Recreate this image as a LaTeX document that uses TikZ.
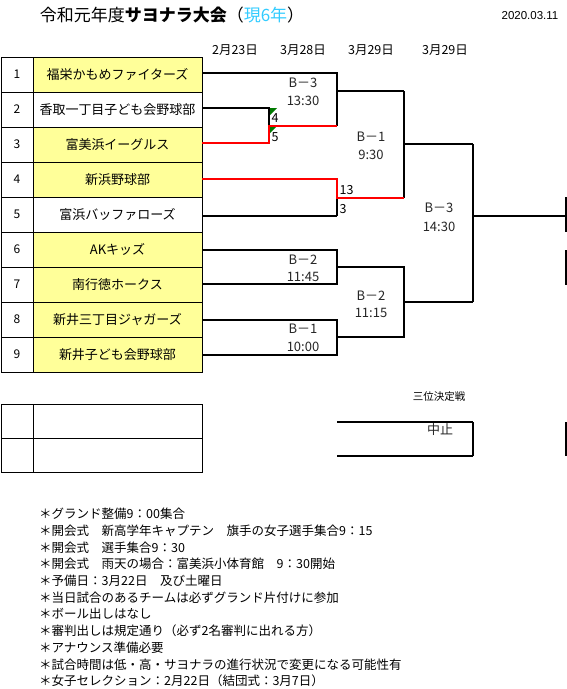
\documentclass[tikz,border=0pt]{standalone}
\usepackage{fontspec}
\newfontfamily\jp{Noto Sans CJK JP}
\newfontfamily\lsans{Liberation Sans}
\definecolor{cellyellow}{HTML}{FFFF99}
\definecolor{winred}{HTML}{FF0000}
\definecolor{titlecyan}{HTML}{33CCFF}
\definecolor{markgreen}{HTML}{007A00}
\begin{document}
\begin{tikzpicture}[x=1pt,y=-1pt,
  grid/.style={draw=black,line width=0.9pt},
  thinline/.style={draw=black,line width=1.3pt},
  thickline/.style={draw=black,line width=1.9pt},
  redline/.style={draw=winred,line width=2.8pt},
  team/.style={font={\jp\fontsize{13pt}{15pt}\selectfont},inner sep=0pt},
  num/.style={font={\jp\fontsize{12pt}{14pt}\selectfont},inner sep=0pt},
  datehead/.style={font={\jp\fontsize{12.5pt}{14pt}\selectfont},inner sep=0pt},
  match/.style={font={\jp\fontsize{13pt}{15pt}\selectfont},inner sep=0pt,text=black!85},
  score/.style={font={\jp\fontsize{12.5pt}{14pt}\selectfont},inner sep=0pt,anchor=west},
  note/.style={font={\jp\fontsize{12.5pt}{14pt}\selectfont},inner sep=0pt,anchor=west},
  small/.style={font={\jp\fontsize{10.5pt}{12pt}\selectfont},inner sep=0pt}]
\useasboundingbox (0,0) rectangle (567,689);
\fill[white] (0,0) rectangle (567,689);

% title and date
\node[inner sep=0pt,font={\jp\fontsize{17pt}{19pt}\selectfont}] (title) at (172,15)
  {令和元年度{\bfseries サヨナラ大会}（\textcolor{titlecyan}{現6年}）};
\node[inner sep=0pt,font={\lsans\fontsize{11.5pt}{13pt}\selectfont}] (date) at (530,16) {2020.03.11};

% date headers
\node[datehead] (d1) at (235,50) {2月23日};
\node[datehead] (d2) at (303,50) {3月28日};
\node[datehead] (d3) at (371,50) {3月29日};
\node[datehead] (d4) at (445,50) {3月29日};

% team table
\foreach \r in {1,3,4,6,7,8,9}{
  \fill[cellyellow] (33,{57+35*(\r-1)}) rectangle (202,{57+35*\r});
}
\draw[grid] (1,57) rectangle (202,372);
\draw[grid] (33,57) -- (33,372);
\foreach \r in {1,...,8}{
  \draw[grid] (1,{57+35*\r}) -- (202,{57+35*\r});
}
\foreach \r in {1,...,9}{
  \node[num] (n\r) at (17,{74.5+35*(\r-1)}) {\r};
}
\node[team] (t1) at (117.5,74.5) {福栄かもめファイターズ};
\node[team] (t2) at (117.5,109.5) {香取一丁目子ども会野球部};
\node[team] (t3) at (117.5,144.5) {富美浜イーグルス};
\node[team] (t4) at (117.5,179.5) {新浜野球部};
\node[team] (t5) at (117.5,214.5) {富浜バッファローズ};
\node[team] (t6) at (117.5,249.5) {AKキッズ};
\node[team] (t7) at (117.5,284.5) {南行徳ホークス};
\node[team] (t8) at (117.5,319.5) {新井三丁目ジャガーズ};
\node[team] (t9) at (117.5,354.5) {新井子ども会野球部};

% line starts at the table edge
\coordinate (r1) at (202,73);
\coordinate (r2) at (202,108);
\coordinate (r3) at (202,143);
\coordinate (r4) at (202,179);
\coordinate (r5) at (202,216);
\coordinate (r6) at (202,250);
\coordinate (r7) at (202,284);
\coordinate (r8) at (202,320);
\coordinate (r9) at (202,355);

% bracket junctions
\coordinate (b1) at (269,108);
\coordinate (b2) at (269,126);
\coordinate (b3) at (269,143);
\coordinate (a1) at (337,73);
\coordinate (a2) at (337,126);
\coordinate (a3) at (337,91);
\coordinate (c1) at (404,91);
\coordinate (c2) at (404,198);
\coordinate (c3) at (404,144);
\coordinate (d1) at (337,179);
\coordinate (d2) at (337,198);
\coordinate (d3) at (337,216);
\coordinate (f1) at (473,144);
\coordinate (f2) at (473,302);
\coordinate (f3) at (473,216);
\coordinate (fend) at (567,216);
\coordinate (g1) at (337,250);
\coordinate (g2) at (337,284);
\coordinate (g3) at (337,267);
\coordinate (h1) at (404,267);
\coordinate (h2) at (404,337);
\coordinate (h3) at (404,302);
\coordinate (k1) at (337,320);
\coordinate (k2) at (337,355);
\coordinate (k3) at (337,337);

% black bracket lines
\draw[thinline] (r1) -- (a1) -- (a2);
\draw[thinline] (r2) -- (b1) -- (b2);
\draw[thickline] (a3) -- (c1);
\draw[thinline] (c1) -- (c2);
\draw[thickline] (r5) -- (d3);
\draw[thinline] (d3) -- (d2);
\draw[thickline] (c3) -- (f1);
\draw[thinline] (f1) -- (f2);
\draw[thickline] (f3) -- (fend);
\draw[thickline] (r6) -- (g1) -- (g2) -- (r7);
\draw[thickline] (g3) -- (h1) -- (h2) -- (k3);
\draw[thickline] (r8) -- (k1) -- (k2) -- (r9);
\draw[thickline] (h3) -- (f2);

% green corner marks
\fill[markgreen] (270,108) -- (277,108) -- (270,115) -- cycle;
\fill[markgreen] (270,126) -- (277,126) -- (270,133) -- cycle;

% red (winner) lines
\draw[redline] (r3) -- (b3) -- (b2) -- (a2);
\draw[redline] (r4) -- (d1) -- (d2) -- (c2);

% cut-off cells at the right edge
\coordinate (x1) at (566,197);
\coordinate (x2) at (566,232);
\coordinate (x3) at (566,250);
\coordinate (x4) at (566,285);
\coordinate (x5) at (566,422);
\coordinate (x6) at (566,456);
\draw[thinline] (x1) -- (x2);
\draw[thinline] (x3) -- (x4);
\draw[thinline] (x5) -- (x6);

% match labels
\node[match] (m1a) at (303,83) {B－3};
\node[match] (m1b) at (303,101) {13:30};
\node[match] (m2a) at (371,137) {B－1};
\node[match] (m2b) at (371,155) {9:30};
\node[match] (m3a) at (439,208) {B－3};
\node[match] (m3b) at (439,227) {14:30};
\node[match] (m4a) at (303,260) {B－2};
\node[match] (m4b) at (303,277) {11:45};
\node[match] (m5a) at (371,296) {B－2};
\node[match] (m5b) at (371,313) {11:15};
\node[match] (m6a) at (303,329) {B－1};
\node[match] (m6b) at (303,347) {10:00};

% scores
\node[score] (s1) at (271.5,118) {4};
\node[score] (s2) at (271.5,137) {5};
\node[score] (s3) at (339.5,190.5) {13};
\node[score] (s4) at (339.5,209) {3};

% third place
\node[small] (third) at (439,397) {三位決定戦};
\coordinate (p1) at (337,422);
\coordinate (p2) at (473,422);
\coordinate (p3) at (473,456);
\coordinate (p4) at (337,456);
\draw[thickline] (p1) -- (p2);
\draw[thinline] (p2) -- (p3);
\draw[thickline] (p3) -- (p4);
\node[match] (stop) at (440,430) {中止};

% empty table
\draw[grid] (1,404) rectangle (202,472);
\draw[grid] (33,404) -- (33,472);
\draw[grid] (1,438) -- (202,438);

% notes
\foreach \txt [count=\i from 0] in {
  ＊グランド整備9：00集合,
  ＊開会式　新高学年キャプテン　旗手の女子選手集合9：15,
  ＊開会式　選手集合9：30,
  ＊開会式　雨天の場合：富美浜小体育館　9：30開始,
  ＊予備日：3月22日　及び土曜日,
  ＊当日試合のあるチームは必ずグランド片付けに参加,
  ＊ボール出しはなし,
  ＊審判出しは規定通り（必ず2名審判に出れる方）,
  ＊アナウンス準備必要,
  ＊試合時間は低・高・サヨナラの進行状況で変更になる可能性有,
  ＊女子セレクション：2月22日（結団式：3月7日）}{
  \node[note] (note\i) at (39,{514+16.7*\i}) {\txt};
}
\end{tikzpicture}
\end{document}
